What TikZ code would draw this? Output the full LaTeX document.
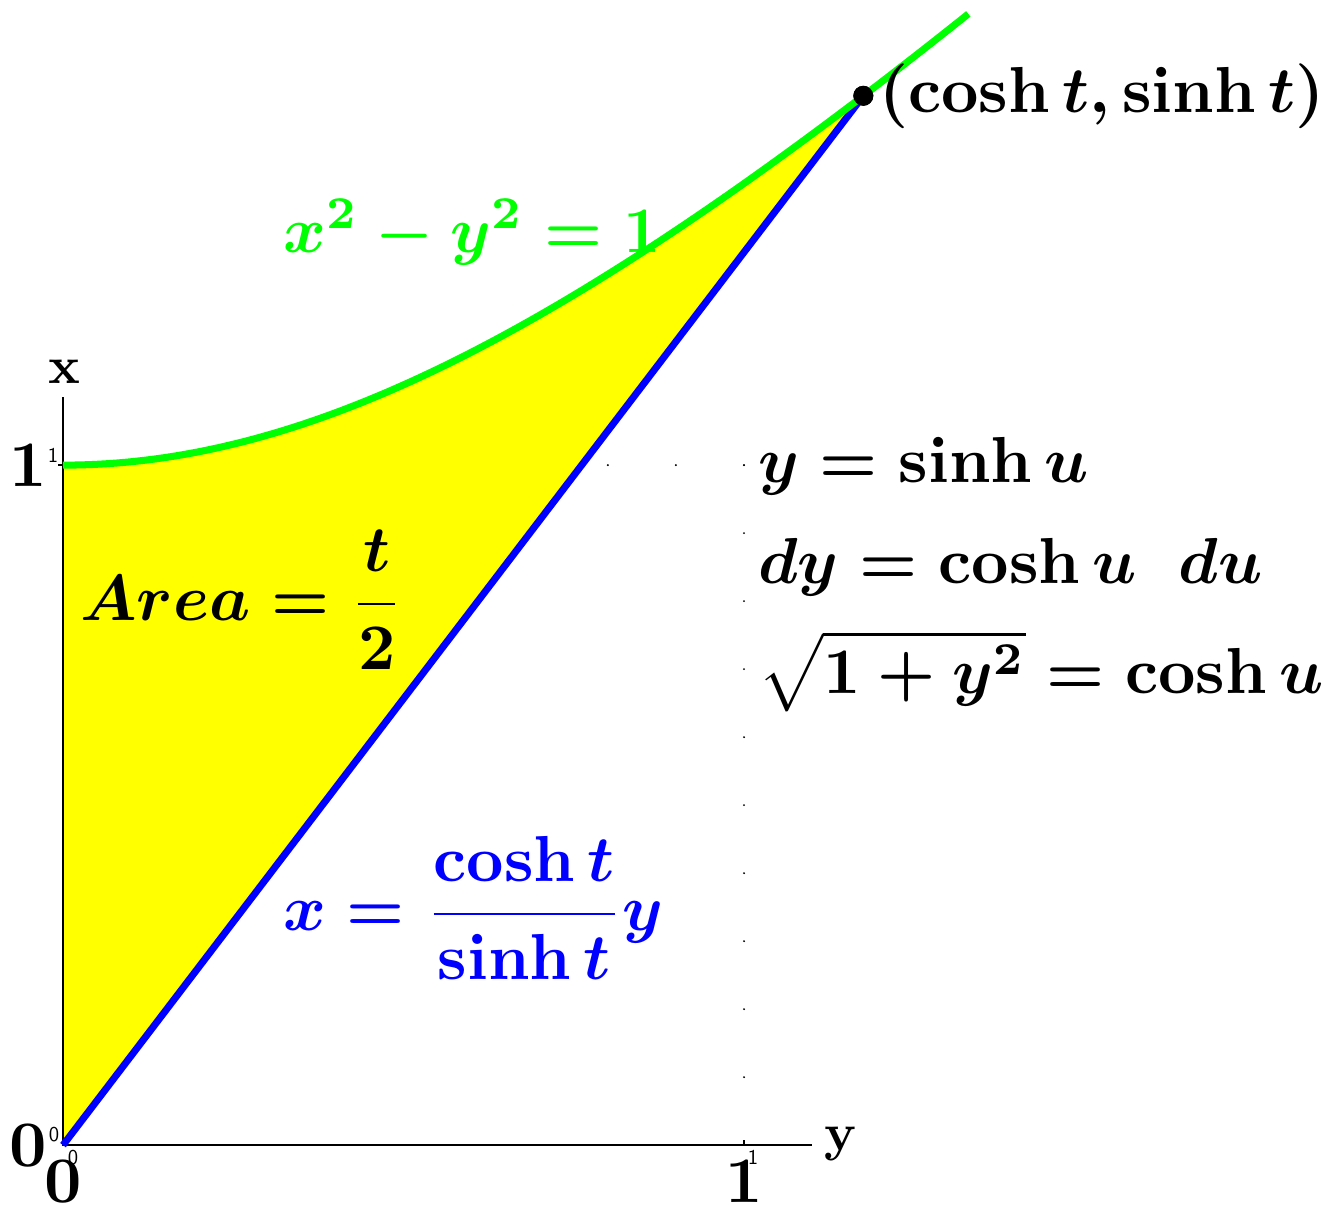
\documentclass[tikz,border=0pt]{standalone}
\definecolor{hgreen}{RGB}{0,255,0}
\definecolor{hblue}{RGB}{0,0,255}
\definecolor{hyellow}{RGB}{255,255,0}
\newcommand{\BigMath}[1]{\scalebox{3.7}{\boldmath$#1$}}
\newcommand{\AxLab}[1]{\scalebox{3.0}{\bfseries #1}}
\begin{document}
\begin{tikzpicture}[x=13.62cm,y=13.6cm,
  bigmath/.style={font=\fontsize{10}{12}\selectfont, inner sep=0pt},
  tinylab/.style={font=\fontsize{12}{13}\selectfont\sffamily, inner sep=0pt},
  axislab/.style={font=\fontsize{10}{12}\selectfont, inner sep=0pt},
  axisline/.style={line width=0.8pt},
  thickcurve/.style={line width=4pt}]
\useasboundingbox (-0.0925,-0.0941) rectangle (1.859,1.684);

% dotted border of the unit square
\foreach \i in {1,...,10} {
  \fill ({\i/10},1) circle (0.0016);
  \fill (1,{\i/10}) circle (0.0016);
}

% shaded area
\fill[hyellow] (0,0) -- (0,1) -- plot[domain=0:1.1752, samples=80] ({\x},{sqrt(1+\x*\x)}) -- cycle;

% axes
\coordinate (O) at (0,0);
\coordinate (xend) at (0,1.1);
\coordinate (yend) at (1.1,0);
\draw[axisline] (xend) -- (O) -- (yend);
\draw[axisline] (1,0) -- (1,0.007);
\draw[axisline] (0,1) -- (-0.007,1);

\node[axislab, anchor=base] (xlab) at (0.0015,1.1206) {\AxLab{x}};
\node[axislab, anchor=base] (ylab) at (1.141,-0.0074) {\AxLab{y}};

\node[bigmath] (one1) at (-0.0514,1) {\BigMath{\mathbf{1}}};
\node[bigmath] (zero1) at (-0.0514,0) {\BigMath{\mathbf{0}}};
\node[bigmath] (zero2) at (0,-0.0537) {\BigMath{\mathbf{0}}};
\node[bigmath] (one2) at (1,-0.0537) {\BigMath{\mathbf{1}}};

\node[tinylab] (t1) at (-0.0147,1.0147) {1};
\node[tinylab] (t2) at (-0.0132,0.0162) {0};
\node[tinylab] (t3) at (0.0147,-0.0176) {0};
\node[tinylab] (t4) at (1.0132,-0.0176) {1};

% point
\node[circle, fill=black, minimum size=0.4cm, inner sep=0pt] (P) at (1.1752,1.5431) {};

% labels
\node[bigmath, text=hgreen, anchor=base west] (hyplab) at (0.323,1.313) {\BigMath{x^2-y^2=1}};
\node[bigmath, anchor=base west] (arealab) at (0.025,0.772) {\BigMath{\displaystyle Area=\frac{t}{2}}};
\node[bigmath, text=hblue, anchor=base west] (linelab) at (0.323,0.316) {\BigMath{\displaystyle x=\frac{\cosh t}{\sinh t}y}};

% curves
\draw[hblue, thickcurve] (O) -- (P.center);
\draw[hgreen, thickcurve] plot[domain=0:1.33, samples=100] ({\x},{sqrt(1+\x*\x)});
\node[circle, fill=black, minimum size=0.4cm, inner sep=0pt] (P2) at (P.center) {};

\node[bigmath, anchor=west, xshift=0.1cm] (plab) at (P.east) {\BigMath{(\cosh t,\sinh t)}};

\node[bigmath, anchor=base west] (eq1) at (1.0206,0.975) {\BigMath{y=\sinh u}};
\node[bigmath, anchor=base west] (eq2) at (1.0206,0.8265) {\BigMath{dy=\cosh u\;\; du}};
\node[bigmath, anchor=base west] (eq3) at (1.0206,0.6647) {\BigMath{\sqrt{1+y^2}=\cosh u}};
\end{tikzpicture}
\end{document}
